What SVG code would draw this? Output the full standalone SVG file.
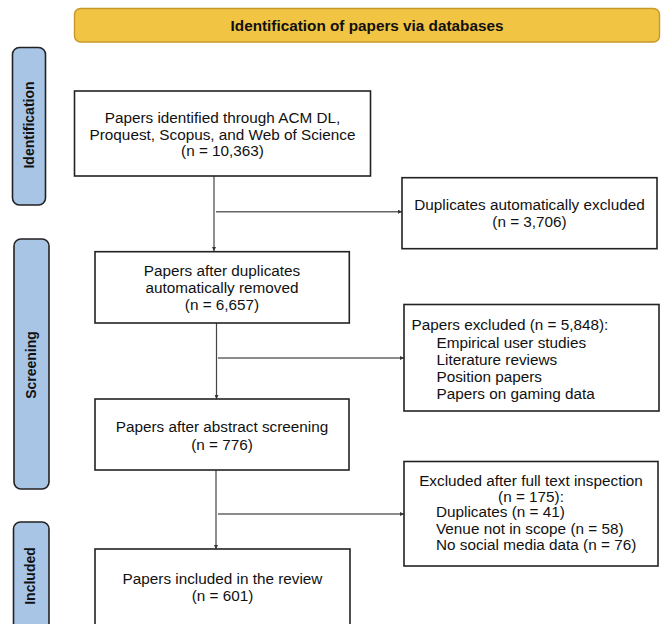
<svg xmlns="http://www.w3.org/2000/svg" width="661" height="624" viewBox="0 0 661 624">
<style>
text{font-family:"Liberation Sans",Arial,Helvetica,sans-serif;font-size:15.3px;fill:#111}
.c{text-anchor:middle}
.b{font-weight:bold}
.sl{font-size:14px}
.box{fill:#fff;stroke:#222;stroke-width:1.6}
.side{fill:#A8C5E6;stroke:#222;stroke-width:1.6}
.con{stroke:#444;stroke-width:1.2;fill:none;marker-end:url(#ah)}
.hcon{stroke:#666;stroke-width:1.4;fill:none;marker-end:url(#ah)}
</style>
<defs>
<marker id="ah" viewBox="0 0 6 6" refX="6" refY="3" markerWidth="4" markerHeight="4" markerUnits="userSpaceOnUse" orient="auto"><path d="M0,0L6,3L0,6Z" fill="#333"/></marker>
</defs>
<rect width="661" height="624" fill="#fff"/>

<g id="header">
<rect x="74.5" y="8.5" width="585" height="33.5" rx="6" fill="#F2C443" stroke="#C8982A" stroke-width="1.4"/>
<text class="c b" x="367" y="30.5">Identification of papers via databases</text>
</g>

<g id="phase-identification">
<rect class="side" x="12.5" y="47.5" width="33" height="157.5" rx="7"/>
<text class="c b sl" transform="translate(33.5,125) rotate(-90)">Identification</text>
</g>
<g id="phase-screening">
<rect class="side" x="14" y="239" width="35" height="250" rx="7"/>
<text class="c b sl" transform="translate(36,365) rotate(-90)">Screening</text>
</g>
<g id="phase-included">
<rect class="side" x="13.5" y="522" width="35.5" height="110" rx="7"/>
<text class="c b sl" transform="translate(35,576) rotate(-90)">Included</text>
</g>

<g id="connectors">
<line class="con" x1="214" y1="176" x2="214" y2="251"/>
<line class="hcon" x1="216" y1="211.7" x2="402" y2="211.7"/>
<line class="con" x1="216.5" y1="323" x2="216.5" y2="399"/>
<line class="hcon" x1="218" y1="358" x2="404" y2="358"/>
<line class="con" x1="216" y1="470" x2="216" y2="549"/>
<line class="hcon" x1="218" y1="514" x2="404" y2="514"/>
</g>

<g id="identified">
<rect class="box" x="74.5" y="91" width="296" height="85"/>
<text class="c" x="222.5" y="122.5">Papers identified through ACM DL,</text>
<text class="c" x="222.5" y="139.5">Proquest, Scopus, and Web of Science</text>
<text class="c" x="222.5" y="156">(n = 10,363)</text>
</g>

<g id="duplicates-excluded">
<rect class="box" x="402" y="177.7" width="255" height="71"/>
<text class="c" x="529.5" y="209.5">Duplicates automatically excluded</text>
<text class="c" x="529.5" y="227">(n = 3,706)</text>
</g>

<g id="after-duplicates">
<rect class="box" x="95" y="251.7" width="254.3" height="71.3"/>
<text class="c" x="222" y="275.5">Papers after duplicates</text>
<text class="c" x="222" y="292.5">automatically removed</text>
<text class="c" x="222" y="309.5">(n = 6,657)</text>
</g>

<g id="papers-excluded">
<rect class="box" x="404" y="304.5" width="255" height="106.5"/>
<text x="411.5" y="329.5">Papers excluded (n = 5,848):</text>
<text x="436.5" y="347.5">Empirical user studies</text>
<text x="436.5" y="364.5">Literature reviews</text>
<text x="436.5" y="381.5">Position papers</text>
<text x="436.5" y="398.5">Papers on gaming data</text>
</g>

<g id="after-abstract">
<rect class="box" x="95" y="399" width="254" height="71"/>
<text class="c" x="222" y="431.5">Papers after abstract screening</text>
<text class="c" x="222" y="449.5">(n = 776)</text>
</g>

<g id="fulltext-excluded">
<rect class="box" x="404" y="461.5" width="254" height="104.5"/>
<text class="c" x="531" y="486">Excluded after full text inspection</text>
<text class="c" x="531" y="501.5">(n = 175):</text>
<text x="436" y="517">Duplicates (n = 41)</text>
<text x="436" y="533.5">Venue not in scope (n = 58)</text>
<text x="436" y="549.5">No social media data (n = 76)</text>
</g>

<g id="included">
<rect class="box" x="95" y="549" width="255" height="80"/>
<text class="c" x="222.5" y="583.5">Papers included in the review</text>
<text class="c" x="222.5" y="601">(n = 601)</text>
</g>
</svg>
